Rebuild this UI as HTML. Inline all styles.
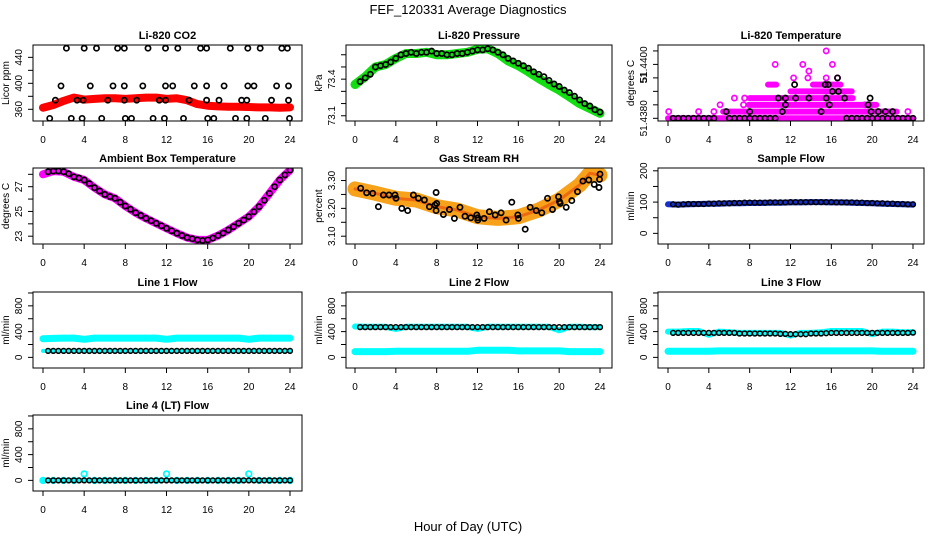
<!DOCTYPE html>
<html><head><meta charset="utf-8">
<style>
html,body{margin:0;padding:0;background:#fff;}
svg{display:block;font-family:"Liberation Sans",Arial,sans-serif;}
</style></head>
<body>
<svg id="chart" width="936" height="540" viewBox="0 0 936 540" xmlns="http://www.w3.org/2000/svg">
<rect x="0" y="0" width="936" height="540" fill="#fff"/>
<text x="468" y="14" text-anchor="middle" font-size="13">FEF_120331  Average Diagnostics</text>
<text x="468" y="531" text-anchor="middle" font-size="13">Hour of Day (UTC)</text>
</svg>
<script>
// ---------- data ----------
const hours = [0,1,2,3,4,5,6,7,8,9,10,11,12,13,14,15,16,17,18,19,20,21,22,23,24];
const halfHours = [0.5,1,1.5,2,2.5,3,3.5,4,4.5,5,5.5,6,6.5,7,7.5,8,8.5,9,9.5,10,10.5,11,11.5,12,12.5,13,13.5,14,14.5,15,15.5,16,16.5,17,17.5,18,18.5,19,19.5,20,20.5,21,21.5,22,22.5,23,23.5,24];
const xTicks = [0,4,8,12,16,20,24];

const co2Red = [362.5,366.7,373,378,375,376,377,377,376,377,378,378,376,377,374,368,365.6,364.5,364,364,363.5,363,363,362.5,363];
const co2BlackX = [2.27,4.0,5.2,7.25,7.9,10.2,11.9,13.1,15.3,15.9,18.2,19.9,21.1,23.2,23.75,
  1.75,4.6,6.8,7.9,9.7,11.9,12.6,14.7,15.9,17.6,19.9,20.5,22.7,23.85,
  1.2,3.3,3.9,6.3,7.9,9.1,11.3,11.9,14.2,15.9,17.1,19.3,19.8,22.2,23.85,
  0.65,2.75,3.8,5.7,8.0,8.6,10.7,11.8,13.65,16.0,16.6,18.7,19.8,21.6,23.95];
const co2BlackY = [454,454,454,454,454,454,454,454,454,454,454,454,454,454,454,
  396,396,396,396,396,396,396,396,396,396,396,396,396,396,
  374,374,374,374,374,374,374,374,374,374,374,374,374,374,374,
  346,346,346,346,346,346,346,346,346,346,346,346,346,346,346];

const presGreen = [73.356,73.42,73.5,73.52,73.57,73.61,73.61,73.62,73.6,73.6,73.61,73.62,73.645,73.65,73.61,73.55,73.51,73.46,73.405,73.356,73.31,73.255,73.2,73.16,73.12];
const presBlack = [73.38,73.41,73.44,73.5,73.51,73.52,73.54,73.57,73.6,73.61,73.62,73.61,73.62,73.62,73.63,73.61,73.61,73.6,73.6,73.61,73.61,73.62,73.63,73.64,73.64,73.65,73.64,73.62,73.6,73.57,73.55,73.53,73.51,73.49,73.46,73.44,73.42,73.39,73.36,73.34,73.31,73.29,73.26,73.23,73.2,73.18,73.15,73.13];

// temperature: levels (0.00025 steps above 51.4380)
const tempRunStart = [0,5.4,7.9,8.0,12.0,9.8,14.2];
const tempRunEnd   = [24,22.4,20.4,18.1,18.0,10.6,16.9];
const tempRunLevel = [0,1,2,3,4,5,5];
const tempDotX = [0.07,3.0,4.5,23.5,5.1,7.4,19.3,6.5,7.5,12.3,13.7,15.5,16.6,13.8,10.5,13.2,16.1,15.5];
const tempDotLevel = [1,1,1,1,2,2,2,3,3,6,6,6,6,7,8,8,8,10];
const tempBlackX = [0.5,1,1.5,2,2.5,3,3.5,4,4.5,6,6.5,7,7.5,8,8.5,9,9.5,10,10.5,17.5,18,18.5,19,19.5,20,20.5,21,21.5,22,22.5,23,23.5,24,
  5.7,8,11.2,15,19.9,20.6,21.3,22,
  11.5,15.8,19.6,
  10.8,11.5,12.5,13.8,15.5,17.3,19.8,
  16.1,16.7,
  12.4,15.4,15.7,
  16.6];
const tempBlackLevel = [0,0,0,0,0,0,0,0,0,0,0,0,0,0,0,0,0,0,0,0,0,0,0,0,0,0,0,0,0,0,0,0,0,
  1,1,1,1,1,1,1,1,
  2,2,2,
  3,3,3,3,3,3,3,
  4,4,
  5,5,5,
  6];

const ambMagenta = [28.0,28.26,28.2,27.8,27.54,26.92,26.38,26.06,25.44,24.9,24.45,24.04,23.64,23.24,22.89,22.7,22.7,23.05,23.5,24.04,24.58,25.39,26.46,27.54,28.34];
const ambBlack = [28.2,28.26,28.27,28.2,28.05,27.8,27.7,27.54,27.25,26.92,26.65,26.38,26.2,26.06,25.75,25.44,25.17,24.9,24.67,24.45,24.25,24.04,23.84,23.64,23.44,23.24,23.06,22.89,22.8,22.7,22.65,22.7,22.85,23.05,23.25,23.5,23.77,24.04,24.3,24.58,24.98,25.39,25.9,26.46,27.0,27.54,27.95,28.34];

const rhOrange = [3.27,3.262,3.254,3.245,3.236,3.233,3.23,3.218,3.206,3.2,3.194,3.182,3.17,3.167,3.164,3.167,3.17,3.182,3.194,3.212,3.23,3.257,3.284,3.326,3.32];
const rhBlackX = [0.56,1.14,1.73,2.29,2.78,3.33,3.92,4.02,4.58,5.16,5.72,6.21,6.8,7.29,7.84,7.94,8.0,7.94,8.66,9.25,9.74,10.29,10.78,11.34,11.93,12.03,12.03,12.65,13.17,13.73,14.31,14.8,15.36,15.95,16.01,16.67,17.16,17.75,18.3,18.86,19.35,19.93,20.03,20.1,20.69,21.24,21.8,22.32,22.9,23.43,24.0,23.95,23.9];
const rhBlackY = [3.272,3.256,3.254,3.206,3.248,3.248,3.248,3.236,3.2,3.192,3.248,3.236,3.23,3.206,3.212,3.257,3.218,3.192,3.178,3.196,3.164,3.204,3.172,3.166,3.176,3.166,3.158,3.164,3.188,3.176,3.184,3.158,3.222,3.176,3.164,3.125,3.204,3.192,3.184,3.236,3.196,3.242,3.224,3.218,3.204,3.228,3.26,3.298,3.302,3.286,3.323,3.304,3.275];

const sampleBlue = [93,92,93,94,95,95,96,96,97,97,98,98,99,99,100,100,99,99,98,97,96,95,94,93,92];
const sampleBlack = [93,92,93,94,94,94,94,95,95,96,96,96,97,97,98,98,98,98,98,99,99,99,99,100,100,100,100,100,100,100,100,100,99,99,99,99,98,98,97,97,96,96,95,95,94,94,93,93];

const line1Cyan = [290,295,300,300,280,300,300,300,300,300,300,300,280,300,300,300,300,300,300,300,280,300,300,300,300];
const line1Black = [100,100,100,100,100,100,100,100,100,100,100,100,100,100,100,100,100,100,100,100,100,100,100,100,100,100,100,100,100,100,100,100,100,100,100,100,100,100,100,100,100,100,100,100,100,100,100,100];
const line2CyanHigh = [480,475,475,475,440,475,475,475,475,475,475,475,440,475,475,475,475,475,475,475,420,475,475,470,470];
const line2CyanLow = [90,90,90,90,95,95,95,95,95,95,95,95,110,110,110,110,100,100,100,100,100,90,90,90,90];
const line2Black = [470,470,470,470,470,470,470,470,470,470,470,470,470,470,470,470,470,470,470,470,470,470,470,470,470,470,470,470,470,470,470,470,470,470,470,470,470,470,470,470,470,470,470,470,470,470,470,470];
const line3CyanHigh = [400,400,410,410,350,400,390,380,380,380,380,380,340,380,380,390,410,410,410,410,360,400,400,390,390];
const line3CyanLow = [95,95,95,95,95,100,100,100,100,100,100,100,100,100,100,100,100,100,100,100,100,95,95,95,95];
const line3Black = [380,380,380,380,380,380,380,380,380,380,380,380,380,370,370,370,370,370,370,370,370,365,365,360,360,360,360,370,370,370,375,380,380,380,380,380,380,380,380,380,380,380,380,380,380,380,380,385];
const line4Cyan = [0,0,0,0,100,0,0,0,0,0,0,0,100,0,0,0,0,0,0,0,100,0,0,0,0];
const line4Black = [0,0,0,0,0,0,0,0,0,0,0,0,0,0,0,0,0,0,0,0,0,0,0,0,0,0,0,0,0,0,0,0,0,0,0,0,0,0,0,0,0,0,0,0,0,0,0,0];

// ---------- layout ----------
const NS = "http://www.w3.org/2000/svg";
const svg = document.getElementById('chart');
const colBox = [[33,302],[346,612],[658,924]];
const colX = [[43,290],[355,600],[668,913]];
const rowTop = [45,168,292,415];
const BOXH = 76;

function el(tag, attrs, parent) {
  const e = document.createElementNS(NS, tag);
  for (const k in attrs) e.setAttribute(k, attrs[k]);
  (parent || svg).appendChild(e);
  return e;
}

function makePanel(col, row, title, ylabel, ylim, yTicks, yLabels, yLabelText, key) {
  const g = el('g', {});
  
  
  const bx0 = colBox[col][0], bx1 = colBox[col][1];
  const by0 = rowTop[row], by1 = rowTop[row] + BOXH;
  const xs = h => colX[col][0] + (colX[col][1] - colX[col][0]) * h / 24;
  const ys = v => by1 - (v - ylim[0]) / (ylim[1] - ylim[0]) * BOXH;
  const clipId = 'clip-' + key;
  const cp = el('clipPath', {id: clipId}, g);
  el('rect', {x: bx0, y: by0, width: bx1 - bx0, height: BOXH}, cp);
  const plot = el('g', {'clip-path': 'url(#' + clipId + ')'}, g);
  
  
  const box = el('rect', {x: bx0, y: by0, width: bx1 - bx0, height: BOXH, fill: 'none', stroke: '#000', 'stroke-width': 1}, g);
  
  
  const t = el('text', {x: (bx0 + bx1) / 2, y: by0 - 6, 'text-anchor': 'middle', 'font-size': 11, 'font-weight': 'bold'}, g);
  t.textContent = title;
  
  
  // x axis
  const xa = el('g', {}, g);
  
  
  xTicks.forEach(h => {
    el('line', {x1: xs(h), x2: xs(h), y1: by1, y2: by1 + 5, stroke: '#000'}, xa);
    const tl = el('text', {x: xs(h), y: by1 + 22, 'text-anchor': 'middle', 'font-size': 10}, xa);
    tl.textContent = String(h);
    
    
  });
  // y axis
  const ya = el('g', {}, g);
  
  
  yTicks.forEach(v => {
    el('line', {x1: bx0, x2: bx0 - 5, y1: ys(v), y2: ys(v), stroke: '#000'}, ya);
  });
  yLabels.forEach((v, i) => {
    const lx = bx0 - 11, ly = ys(v);
    const tl = el('text', {x: lx, y: ly, 'text-anchor': 'middle', 'font-size': 10, transform: 'rotate(-90 ' + lx + ' ' + ly + ')'}, ya);
    tl.textContent = yLabelText[i];
    
    
  });
  const yl = el('text', {x: bx0 - 24, y: (by0 + by1) / 2, 'text-anchor': 'middle', 'font-size': 10, transform: 'rotate(-90 ' + (bx0 - 24) + ' ' + ((by0 + by1) / 2) + ')'}, ya);
  yl.textContent = ylabel;
  
  
  return {plot, xs, ys};
}

function band(p, xArr, yArr, color, width, name) {
  const d = xArr.map((x, i) => (i ? 'L' : 'M') + p.xs(x).toFixed(1) + ',' + p.ys(yArr[i]).toFixed(1)).join(' ');
  const path = el('path', {d, fill: 'none', stroke: color, 'stroke-width': width, 'stroke-linejoin': 'round', 'stroke-linecap': 'round'}, p.plot);
  
  
}
function points(p, xArr, yArr, color, name, r, sw) {
  const g = el('g', {}, p.plot);
  
  
  xArr.forEach((x, i) => {
    el('circle', {cx: p.xs(x).toFixed(1), cy: p.ys(yArr[i]).toFixed(1), r: r || 2.6, fill: 'none', stroke: color, 'stroke-width': sw || 1.7}, g);
  });
}

// ---------- panels ----------
let p;
p = makePanel(0, 0, 'Li-820 CO2', 'Licor ppm', [342, 459], [360,380,400,420,440], [360,400,440], ['360','400','440'], 'co2');
band(p, hours, co2Red, '#ff0000', 8, 'co2-red-series');
points(p, co2BlackX, co2BlackY, '#000', 'co2-black-series');

p = makePanel(1, 0, 'Li-820 Pressure', 'kPa', [73.057, 73.68], [73.1,73.2,73.3,73.4,73.5,73.6], [73.1,73.4], ['73.1','73.4'], 'pressure');
band(p, hours, presGreen, '#11dd11', 9, 'pressure-green-series');
points(p, halfHours, presBlack, '#000', 'pressure-black-series');

const tempBase = 51.4380, tempStep = 0.00025;
p = makePanel(2, 0, 'Li-820 Temperature', 'degrees C', [51.4379, 51.44072], [51.4380,51.4385,51.4390,51.4395,51.4400,51.4405], [51.4380,51.4395,51.4400], ['51.4380','51','51.4400'], 'temperature');
{
  const tp = p;
  const rg = el('g', {}, tp.plot);
  
  
  tempRunStart.forEach((s, i) => {
    const yv = tp.ys(tempBase + tempStep * tempRunLevel[i]);
    el('line', {x1: tp.xs(s), x2: tp.xs(tempRunEnd[i]), y1: yv, y2: yv, stroke: '#ff00ff', 'stroke-width': 6, 'stroke-linecap': 'round'}, rg);
  });
  points(tp, tempDotX, tempDotLevel.map(k => tempBase + tempStep * k), '#ff00ff', 'temperature-magenta-points');
  points(tp, tempBlackX, tempBlackLevel.map(k => tempBase + tempStep * k), '#000', 'temperature-black-series');
}

p = makePanel(0, 1, 'Ambient Box Temperature', 'degrees C', [22.37, 28.51], [23,24,25,26,27,28], [23,25,27], ['23','25','27'], 'ambient');
band(p, hours, ambMagenta, '#ff00ff', 8, 'ambient-magenta-series');
points(p, halfHours, ambBlack, '#000', 'ambient-black-series');

p = makePanel(1, 1, 'Gas Stream RH', 'percent', [3.072, 3.345], [3.10,3.15,3.20,3.25,3.30], [3.10,3.20,3.30], ['3.10','3.20','3.30'], 'rh');
band(p, hours, rhOrange, '#f7a21a', 15, 'rh-orange-series');
band(p, hours, rhOrange, '#ee6a10', 3, 'rh-orange-core');
points(p, rhBlackX, rhBlackY, '#000', 'rh-black-series');

p = makePanel(2, 1, 'Sample Flow', 'ml/min', [-34, 209], [0,50,100,150,200], [0,100,200], ['0','100','200'], 'sample');
band(p, hours, sampleBlue, '#1530d0', 6, 'sample-blue-series');
points(p, halfHours, sampleBlack, '#000', 'sample-black-series', 2.4, 1.5);

const flowLim = [-165, 1015], flowTicks = [0,200,400,600,800,1000], flowLab = [0,400,800], flowLabT = ['0','400','800'];
p = makePanel(0, 2, 'Line 1 Flow', 'ml/min', flowLim, flowTicks, flowLab, flowLabT, 'line1');
band(p, hours, line1Cyan, '#00ffff', 7, 'line1-cyan-series');
band(p, hours, line1Black.slice(0, 25), '#00ffff', 4, 'line1-cyan-low');
points(p, halfHours, line1Black, '#000', 'line1-black-series', 2.4, 1.5);

p = makePanel(1, 2, 'Line 2 Flow', 'ml/min', flowLim, flowTicks, flowLab, flowLabT, 'line2');
band(p, hours, line2CyanHigh, '#00ffff', 6, 'line2-cyan-high');
band(p, hours, line2CyanLow, '#00ffff', 7, 'line2-cyan-low');
points(p, halfHours, line2Black, '#000', 'line2-black-series', 2.4, 1.5);

p = makePanel(2, 2, 'Line 3 Flow', 'ml/min', flowLim, flowTicks, flowLab, flowLabT, 'line3');
band(p, hours, line3CyanHigh, '#00ffff', 6, 'line3-cyan-high');
band(p, hours, line3CyanLow, '#00ffff', 7, 'line3-cyan-low');
points(p, halfHours, line3Black, '#000', 'line3-black-series', 2.4, 1.5);

p = makePanel(0, 3, 'Line 4 (LT) Flow', 'ml/min', flowLim, flowTicks, flowLab, flowLabT, 'line4');
band(p, hours, line4Cyan.map(v => 0), '#00ffff', 4, 'line4-cyan-base');
points(p, hours, line4Cyan, '#00ffff', 'line4-cyan-series', 2.8, 1.8);
points(p, halfHours, line4Black, '#000', 'line4-black-series', 2.4, 1.5);
</script>
</body></html>
